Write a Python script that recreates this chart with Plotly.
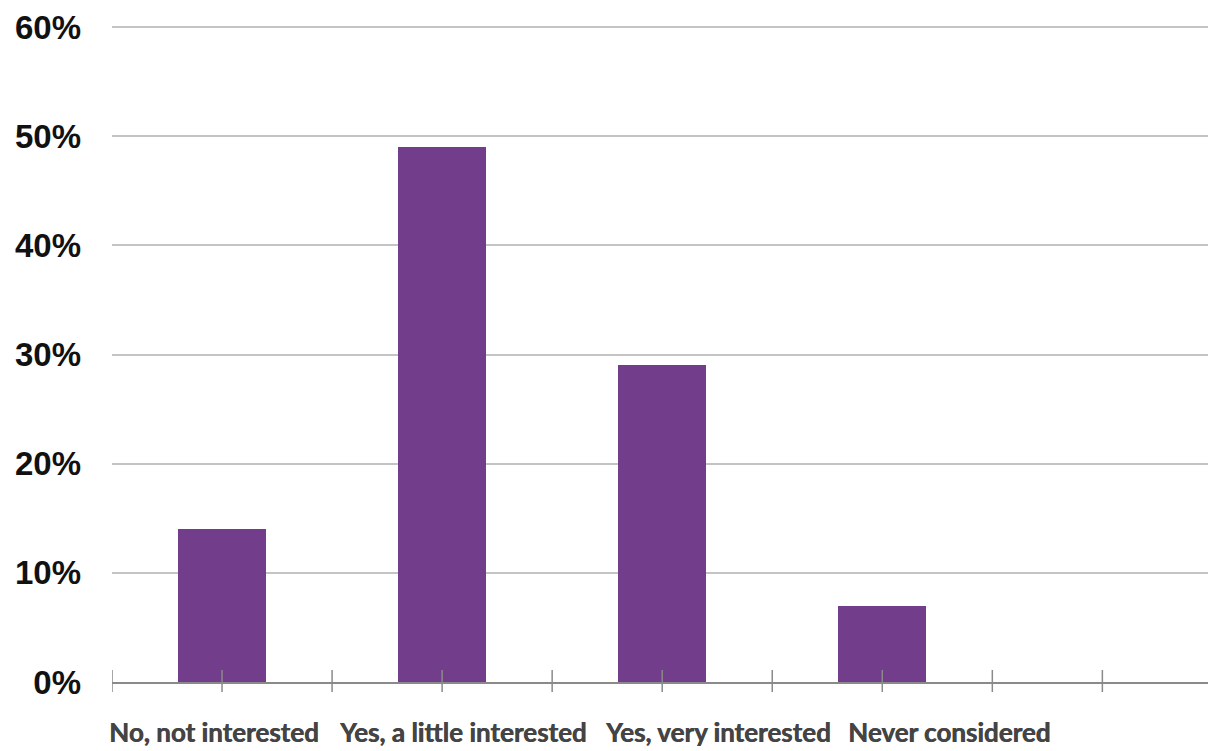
import numpy as np
import plotly.graph_objects as go

categories = ["No, not interested", "Yes, a little interested", "Yes, very interested", "Never considered"]
values = [14, 49, 29, 7]
y_ticks = [0, 10, 20, 30, 40, 50, 60]

W, H = 1208, 751
L, R, T, B = 112, 0, 26, 69
plot_w = W - L - R
plot_h = H - T - B

x_idx = list(range(len(categories)))
x_range = [-0.5, 4.48]

fig = go.Figure()
fig.add_trace(go.Bar(
    x=x_idx, y=values, width=0.4,
    marker=dict(color="#723e8c", line=dict(width=0)),
    hoverinfo="skip",
))

# crossing tick marks at every half slot
shapes = []
for t in np.arange(-0.5, 4.01, 0.5):
    shapes.append(dict(type="line", xref="x", yref="paper", x0=t, x1=t,
                       y0=-10 / plot_h, y1=12 / plot_h,
                       line=dict(color="#8a8a8a", width=1.5)))

# category labels placed as a text row under the axis
label_px = [107, 337, 603, 846]
annotations = []
for lab, px in zip(categories, label_px):
    annotations.append(dict(
        text=f"<b>{lab}</b>", xref="paper", yref="paper",
        x=(px - L) / plot_w, y=-(B - 1) / plot_h,
        xanchor="left", yanchor="bottom", showarrow=False,
        font=dict(family="Lato", size=26, color="#444444",
                  shadow="0.6px 0px 0px #444444"),
    ))

fig.update_layout(
    width=W, height=H,
    margin=dict(l=L, r=R, t=T, b=B, pad=0),
    plot_bgcolor="white", paper_bgcolor="white",
    showlegend=False,
    shapes=shapes,
    annotations=annotations,
    bargap=0,
)
fig.update_xaxes(
    range=x_range, showticklabels=False, showgrid=False, zeroline=False,
    showline=True, linecolor="#8a8a8a", linewidth=2, ticks="",
)
fig.update_yaxes(
    range=[0, 60.1], tickvals=y_ticks, ticktext=[f"<b>{v}%</b>" for v in y_ticks],
    showgrid=True, gridcolor="#c4c4c4", gridwidth=1.5,
    zeroline=False, showline=False, ticks="",
    ticklabelstandoff=30,
    tickfont=dict(family="Liberation Sans", size=33, color="#111111"),
)

fig.write_html(
    "out.html",
    config={"displayModeBar": False},
    post_script="document.body.style.margin='0';document.body.style.overflow='hidden';",
)
